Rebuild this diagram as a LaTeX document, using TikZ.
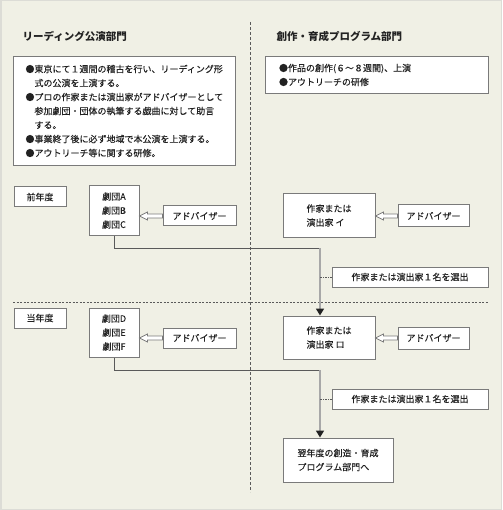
\documentclass[tikz,border=0pt]{standalone}
\usepackage{fontspec}
\setmainfont{Noto Sans CJK JP}[UprightFeatures={FakeBold=0.2}]
\usepackage{tikz}
\usetikzlibrary{arrows.meta,calc}
\definecolor{paper}{HTML}{F0F0E5}
\definecolor{frame}{HTML}{DCDCD6}
\definecolor{boxline}{HTML}{7A7A7A}
\definecolor{ink}{HTML}{222222}
\definecolor{flow}{HTML}{5A5A5A}
\definecolor{feed}{HTML}{A8A8A8}

\begin{document}
\begin{tikzpicture}[x=1pt,y=-1pt,font=\fontsize{9}{14}\selectfont,
  box/.style={draw=boxline,line width=1pt,fill=white,inner sep=0pt,text=ink},
  title/.style={font=\fontsize{10.5}{12}\selectfont\bfseries,text=ink,anchor=west},
  flow/.style={draw=flow,line width=0.8pt},
  feed/.style={draw=feed,line width=1.6pt,-{Triangle[width=8pt,length=7pt,color=ink]}},
  hollow/.style={draw=boxline,line width=0.8pt,fill=white},
  tie/.style={draw=flow,line width=0.5pt,dash pattern=on 1.5pt off 1pt},
  divider/.style={draw=flow,line width=0.6pt,dash pattern=on 3pt off 2pt}]
  % paper
  \fill[paper] (0,0) rectangle (502,510);
  \draw[frame,line width=1.5pt] (0.75,0.75) rectangle (501.25,509.25);
  \draw[divider] (250,22) -- (250,492);
  \draw[divider,dash pattern=on 2pt off 1.5pt] (13,302) -- (488,302);

  % headings and outlines
  \node[title] (readtitle) at (19,36) {リーディング公演部門};
  \node[title] (progtitle) at (273,36) {創作・育成プログラム部門};
  \node[box,anchor=north west,minimum width=222pt,minimum height=109pt,
        text width=198pt,align=left] (readbox) at (13,56)
    {●東京にて１週間の稽古を行い、リーディング形\\
     \hspace*{9pt}式の公演を上演する。\\
     ●プロの作家または演出家がアドバイザーとして\\
     \hspace*{9pt}参加劇団・団体の執筆する戯曲に対して助言\\
     \hspace*{9pt}する。\\
     ●事業終了後に必ず地域で本公演を上演する。\\
     ●アウトリーチ等に関する研修。};
  \node[box,anchor=north west,minimum width=223pt,minimum height=37pt,
        text width=196pt,align=left] (progbox) at (265,56)
    {●作品の創作(６～８週間)、上演\\
     ●アウトリーチの研修};

  % previous year
  \node[box,minimum width=52pt,minimum height=20pt] (prevyear) at (40,197) {前年度};
  \node[box,minimum width=50pt,minimum height=49pt,align=center] (troupeABC) at (114,210.5) {劇団A\\劇団B\\劇団C};
  \node[box,minimum width=73pt,minimum height=20pt] (adviseABC) at (199.5,216) {アドバイザー};
  \node[box,minimum width=92pt,minimum height=43pt,align=left] (writerI) at (329,215.5) {作家または\\演出家 イ};
  \node[box,minimum width=71pt,minimum height=22pt] (adviseI) at (433.5,216) {アドバイザー};
  \node[box,minimum width=156pt,minimum height=20pt] (pickI) at (410,277) {作家または演出家１名を選出};

  % this year
  \node[box,minimum width=52pt,minimum height=20pt] (thisyear) at (40,318) {当年度};
  \node[box,minimum width=50pt,minimum height=49pt,align=center] (troupeDEF) at (114,332.5) {劇団D\\劇団E\\劇団F};
  \node[box,minimum width=73pt,minimum height=20pt] (adviseDEF) at (199.5,338) {アドバイザー};
  \node[box,minimum width=92pt,minimum height=43pt,align=left] (writerRo) at (329,337.5) {作家または\\演出家 ロ};
  \node[box,minimum width=71pt,minimum height=22pt] (adviseRo) at (433.5,338) {アドバイザー};
  \node[box,minimum width=156pt,minimum height=20pt] (pickRo) at (410,399) {作家または演出家１名を選出};
  \node[box,minimum width=110pt,minimum height=44pt,align=left] (nextyear) at (338,460) {翌年度の創造・育成\\プログラム部門へ};

  % selection flow
  \coordinate (turnI) at (320,248);
  \coordinate (turnRo) at (320,370);
  \draw[flow] (troupeABC.south) |- (turnI);
  \draw[feed] (turnI) -- (turnI |- writerRo.north);
  \draw[tie] (pickI.west) -- (pickI.west -| turnI);
  \draw[flow] (troupeDEF.south) |- (turnRo);
  \draw[feed] (turnRo) -- (turnRo |- nextyear.north);
  \draw[tie] (pickRo.west) -- (pickRo.west -| turnRo);

  % advisers
  \foreach \a/\t in {adviseABC/troupeABC,adviseI/writerI,adviseDEF/troupeDEF,adviseRo/writerRo}
    \draw[hollow] (\t.east |- \a.west) -- ++(8,-4) -- ++(0,2) -- ($(\a.west)+(0,-2)$)
      -- ($(\a.west)+(0,2)$) -- ($(\t.east |- \a.west)+(8,2)$) -- ++(0,2) -- cycle;
\end{tikzpicture}
\end{document}
